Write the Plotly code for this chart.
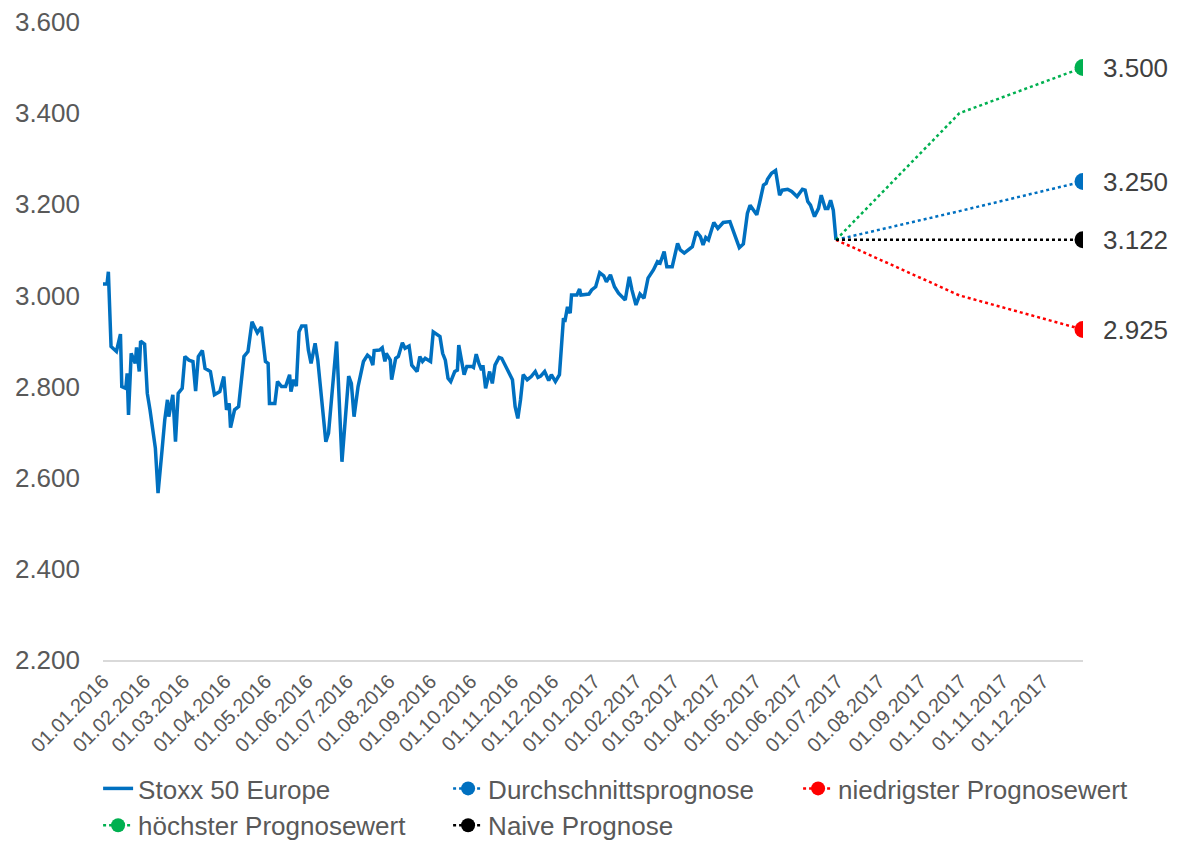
import plotly.graph_objects as go

# ---- data -------------------------------------------------------------
stoxx_dates = [
    "2016-01-01", "2016-01-04", "2016-01-05", "2016-01-07", "2016-01-11", "2016-01-14", "2016-01-15",
    "2016-01-18", "2016-01-19", "2016-01-20", "2016-01-22", "2016-01-25", "2016-01-26", "2016-01-28",
    "2016-01-29", "2016-02-01", "2016-02-03", "2016-02-05", "2016-02-09", "2016-02-10", "2016-02-11",
    "2016-02-14", "2016-02-16", "2016-02-18", "2016-02-19", "2016-02-22", "2016-02-24", "2016-02-26",
    "2016-02-29", "2016-03-02", "2016-03-05", "2016-03-08", "2016-03-10", "2016-03-12", "2016-03-15",
    "2016-03-17", "2016-03-21", "2016-03-24", "2016-03-28", "2016-03-31", "2016-04-02", "2016-04-04",
    "2016-04-05", "2016-04-08", "2016-04-11", "2016-04-15", "2016-04-18", "2016-04-21", "2016-04-25",
    "2016-04-28", "2016-05-01", "2016-05-03", "2016-05-04", "2016-05-08", "2016-05-10", "2016-05-13",
    "2016-05-16", "2016-05-19", "2016-05-20", "2016-05-22", "2016-05-24", "2016-05-26", "2016-05-28",
    "2016-05-31", "2016-06-02", "2016-06-04", "2016-06-07", "2016-06-09", "2016-06-12", "2016-06-15",
    "2016-06-17", "2016-06-20", "2016-06-23", "2016-06-27", "2016-07-02", "2016-07-04", "2016-07-06",
    "2016-07-09", "2016-07-13", "2016-07-16", "2016-07-18", "2016-07-20", "2016-07-21", "2016-07-25",
    "2016-07-27", "2016-07-29", "2016-07-30", "2016-08-02", "2016-08-03", "2016-08-06", "2016-08-08",
    "2016-08-11", "2016-08-13", "2016-08-16", "2016-08-18", "2016-08-20", "2016-08-22", "2016-08-24",
    "2016-08-26", "2016-08-28", "2016-08-31", "2016-09-01", "2016-09-03", "2016-09-06", "2016-09-08",
    "2016-09-10", "2016-09-12", "2016-09-14", "2016-09-16", "2016-09-19", "2016-09-21", "2016-09-22",
    "2016-09-24", "2016-09-26", "2016-09-28", "2016-10-02", "2016-10-03", "2016-10-05", "2016-10-07",
    "2016-10-09", "2016-10-10", "2016-10-12", "2016-10-15", "2016-10-17", "2016-10-19", "2016-10-22",
    "2016-10-24", "2016-10-27", "2016-10-29", "2016-11-01", "2016-11-03", "2016-11-05", "2016-11-07",
    "2016-11-09", "2016-11-12", "2016-11-15", "2016-11-18", "2016-11-20", "2016-11-22", "2016-11-25",
    "2016-11-28", "2016-11-30", "2016-12-03", "2016-12-06", "2016-12-09", "2016-12-10", "2016-12-12",
    "2016-12-14", "2016-12-15", "2016-12-19", "2016-12-21", "2016-12-22", "2016-12-28", "2016-12-30",
    "2017-01-02", "2017-01-05", "2017-01-08", "2017-01-10", "2017-01-13", "2017-01-16", "2017-01-19",
    "2017-01-24", "2017-01-27", "2017-01-29", "2017-02-01", "2017-02-04", "2017-02-07", "2017-02-10",
    "2017-02-14", "2017-02-17", "2017-02-19", "2017-02-22", "2017-02-24", "2017-02-28", "2017-03-04",
    "2017-03-06", "2017-03-09", "2017-03-12", "2017-03-15", "2017-03-18", "2017-03-21", "2017-03-23",
    "2017-03-25", "2017-03-27", "2017-03-31", "2017-04-03", "2017-04-07", "2017-04-12", "2017-04-14",
    "2017-04-17", "2017-04-19", "2017-04-22", "2017-04-25", "2017-04-27", "2017-04-30", "2017-05-02",
    "2017-05-04", "2017-05-07", "2017-05-09", "2017-05-10", "2017-05-13", "2017-05-16", "2017-05-19",
    "2017-05-21", "2017-05-25", "2017-05-28", "2017-06-01", "2017-06-05", "2017-06-07", "2017-06-09",
    "2017-06-11", "2017-06-14", "2017-06-17", "2017-06-19", "2017-06-22", "2017-06-24", "2017-06-26",
    "2017-06-28", "2017-06-30",
]
stoxx_values = [
    3025, 3025, 3052, 2888, 2877, 2915, 2800,
    2796, 2829, 2738, 2873, 2851, 2886, 2833,
    2900, 2893, 2785, 2749, 2665, 2617, 2566,
    2661, 2727, 2771, 2734, 2782, 2679, 2785,
    2796, 2866, 2858, 2855, 2790, 2866, 2879,
    2840, 2833, 2782, 2789, 2822, 2749, 2763,
    2710, 2749, 2756, 2866, 2877, 2942, 2918,
    2931, 2855, 2851, 2763, 2763, 2811, 2800,
    2800, 2826, 2789, 2815, 2801, 2920, 2933,
    2933, 2880, 2851, 2895, 2858, 2771, 2679,
    2698, 2800, 2899, 2635, 2823, 2807, 2734,
    2800, 2855, 2869, 2864, 2847, 2879, 2880,
    2885, 2855, 2873, 2858, 2815, 2862, 2866,
    2896, 2884, 2889, 2847, 2840, 2833, 2866,
    2855, 2862, 2858, 2855, 2920, 2915, 2910,
    2873, 2858, 2818, 2811, 2833, 2836, 2891,
    2855, 2826, 2844, 2844, 2842, 2871, 2851,
    2836, 2847, 2796, 2833, 2807, 2847, 2864,
    2862, 2844, 2829, 2815, 2756, 2730, 2771,
    2826, 2815, 2822, 2833, 2820, 2823, 2833,
    2813, 2826, 2811, 2826, 2950, 2942, 2975,
    2961, 3001, 3001, 3014, 3001, 3003, 3012,
    3019, 3050, 3043, 3030, 3045, 3019, 3005,
    2990, 3041, 3012, 2979, 3003, 2994, 3038,
    3056, 3074, 3071, 3096, 3063, 3063, 3114,
    3100, 3093, 3100, 3107, 3140, 3129, 3111,
    3127, 3122, 3160, 3147, 3160, 3162, 3144,
    3122, 3105, 3113, 3180, 3198, 3184, 3177,
    3202, 3242, 3246, 3255, 3268, 3274, 3220,
    3231, 3233, 3228, 3217, 3233, 3231, 3206,
    3198, 3173, 3191, 3220, 3191, 3191, 3209,
    3187, 3122,
]

forecast_dates = ["2017-06-30", "2017-09-30", "2017-12-31"]
avg_forecast = [3122, 3185, 3250]
low_forecast = [3122, 3000, 2925]
high_forecast = [3122, 3400, 3500]
naive_forecast = [3122, 3122, 3122]

series_names = ["Stoxx 50 Europe", "Durchschnittsprognose", "niedrigster Prognosewert",
                "höchster Prognosewert", "Naive Prognose"]

# ---- styling ----------------------------------------------------------
BLUE = "#0070C0"
RED = "#FF0000"
GREEN = "#00B050"
BLACK = "#000000"
FONT = "Liberation Sans, Arial, sans-serif"
TXT = "#595959"

fig = go.Figure()

fig.add_trace(go.Scatter(
    x=stoxx_dates, y=stoxx_values, mode="lines", name=series_names[0],
    line=dict(color=BLUE, width=3.5), showlegend=True,
))

forecasts = [
    (series_names[1], avg_forecast, BLUE),
    (series_names[2], low_forecast, RED),
    (series_names[3], high_forecast, GREEN),
    (series_names[4], naive_forecast, BLACK),
]

# legend entries (dummy traces so the legend shows line + marker)
for name, vals, col in forecasts:
    fig.add_trace(go.Scatter(
        x=[None], y=[None], mode="lines+markers", name=name,
        line=dict(color=col, width=2.5, dash="dot"),
        marker=dict(color=col, size=14), showlegend=True,
    ))

for name, vals, col in forecasts:
    fig.add_trace(go.Scatter(
        x=forecast_dates, y=vals, mode="lines", name=name,
        line=dict(color=col, width=2.5, dash="dot"), showlegend=False,
    ))
    fig.add_trace(go.Scatter(
        x=forecast_dates[-1:], y=vals[-1:], mode="markers", name=name,
        marker=dict(color=col, size=17), showlegend=False, cliponaxis=True,
    ))
    fig.add_annotation(
        x=1, xref="paper", y=vals[-1], yref="y",
        text=f"{vals[-1]:,}".replace(",", "."), showarrow=False,
        xanchor="left", yanchor="middle", xshift=18,
        font=dict(family=FONT, size=26, color="#404040"),
    )

fig.update_layout(
    width=1181, height=843,
    margin=dict(l=95, r=106, t=14, b=191, autoexpand=False),
    paper_bgcolor="white", plot_bgcolor="white",
    separators=",.",
    font=dict(family=FONT, color=TXT),
    showlegend=True,
    legend=dict(
        orientation="h", x=-0.005, xanchor="left",
        y=-0.1646, yanchor="top",
        font=dict(family=FONT, size=26, color=TXT),
        entrywidth=305, entrywidthmode="pixels",
        traceorder="normal", tracegroupgap=0,
    ),
    xaxis=dict(
        type="date", range=["2016-01-01", "2017-12-31"],
        tick0="2016-01-01", dtick="M1", tickformat="%d.%m.%Y",
        tickangle=-45, tickfont=dict(family=FONT, size=20, color=TXT),
        showgrid=False, zeroline=False, showline=True, linecolor="#D9D9D9", linewidth=1.5,
        ticks="", automargin=False, ticklabeloverflow="allow",
    ),
    yaxis=dict(
        range=[2200, 3600], dtick=200, tickformat=",d",
        tickfont=dict(family=FONT, size=26, color=TXT),
        showgrid=False, zeroline=False, showline=False, ticks="",
        ticklabelstandoff=22, automargin=False, ticklabeloverflow="allow",
    ),
)

fig.write_html("out.html")
